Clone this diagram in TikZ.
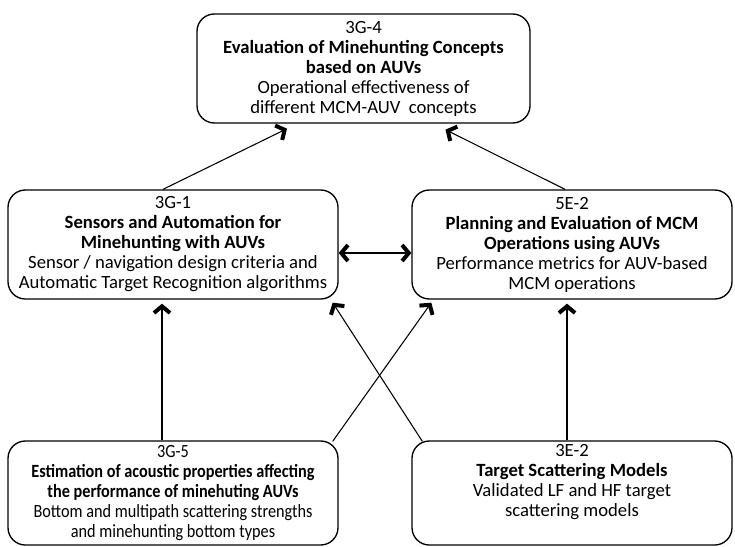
\documentclass[tikz,border=0pt]{standalone}
\usepackage{fontspec}
\setmainfont{Carlito}
\usetikzlibrary{arrows.meta,calc}

\tikzset{
  topicbox/.style={draw, line width=1pt, rounded corners=13pt, align=center, inner sep=0pt,
    font=\fontsize{14}{15}\selectfont},
  barb/.tip={Straight Barb[length=5pt,width=12pt,line width=3pt]},
  feed/.style={line width=0.8pt, -barb},
  feedboth/.style={line width=0.8pt, barb-barb},
}

\begin{document}
\begin{tikzpicture}[x=0.75pt,y=0.75pt,yscale=-1,xscale=1]
\useasboundingbox (0,0) rectangle (735,546);

%Rounded Rect [3G-4]
\node [topicbox, minimum width=249.75pt, minimum height=81.75pt] (eval) at (363.5,68.5)
  {3G-4\\\textbf{Evaluation of Minehunting Concepts}\\\textbf{based on AUVs}\\Operational effectiveness of\\different MCM-AUV\ \ concepts};
%Rounded Rect [3G-1]
\node [topicbox, minimum width=247.5pt, minimum height=81.75pt] (sensors) at (173,244.5)
  {3G-1\\\textbf{Sensors and Automation for}\\\textbf{Minehunting with AUVs}\\Sensor / navigation design criteria and\\Automatic Target Recognition algorithms};
%Rounded Rect [5E-2]
\node [topicbox, minimum width=240pt, minimum height=81.75pt] (planning) at (572,244.5)
  {5E-2\\\textbf{Planning and Evaluation of MCM}\\\textbf{Operations using AUVs}\\Performance metrics for AUV-based\\MCM operations};
%Rounded Rect [3G-5]
\node [topicbox, minimum width=247.5pt, minimum height=78pt] (acoustic) at (173,493)
  {\scalebox{0.87}[1]{\begin{tabular}{@{}c@{}}3G-5\\\textbf{Estimation of acoustic properties affecting}\\\textbf{the performance of minehuting AUVs}\\Bottom and multipath scattering strengths\\and minehunting bottom types\end{tabular}}};
%Rounded Rect [3E-2]
\node [topicbox, minimum width=240pt, minimum height=78pt] (scatter) at (572,493)
  {3E-2\\\textbf{Target Scattering Models}\\Validated LF and HF target\\scattering models\\\strut};

%Arrows up to 3G-4
\draw [feed] ($(sensors.north)+(-10,0)$) -- ($(eval.south)+(-76.5,5)$);
\draw [feed] ($(planning.north)+(-7,0)$) -- ($(eval.south)+(82,6)$);
%Arrow between 3G-1 and 5E-2
\draw [feedboth] ($(sensors.east)+(0,8.5)$) -- ($(planning.west)+(0,8.5)$);
%Arrows from the bottom row
\draw [feed] ($(acoustic.north)+(-11,0)$) -- ($(sensors.south)+(-11,4)$);
\draw [feed] ($(acoustic.north east)+(-6,1)$) -- ($(planning.south west)+(20,3)$);
\draw [feed] ($(scatter.north west)+(11,1)$) -- ($(sensors.south east)+(-6,3)$);
\draw [feed] ($(scatter.north)+(-5,0)$) -- ($(planning.south)+(-5,4)$);

\end{tikzpicture}
\end{document}
